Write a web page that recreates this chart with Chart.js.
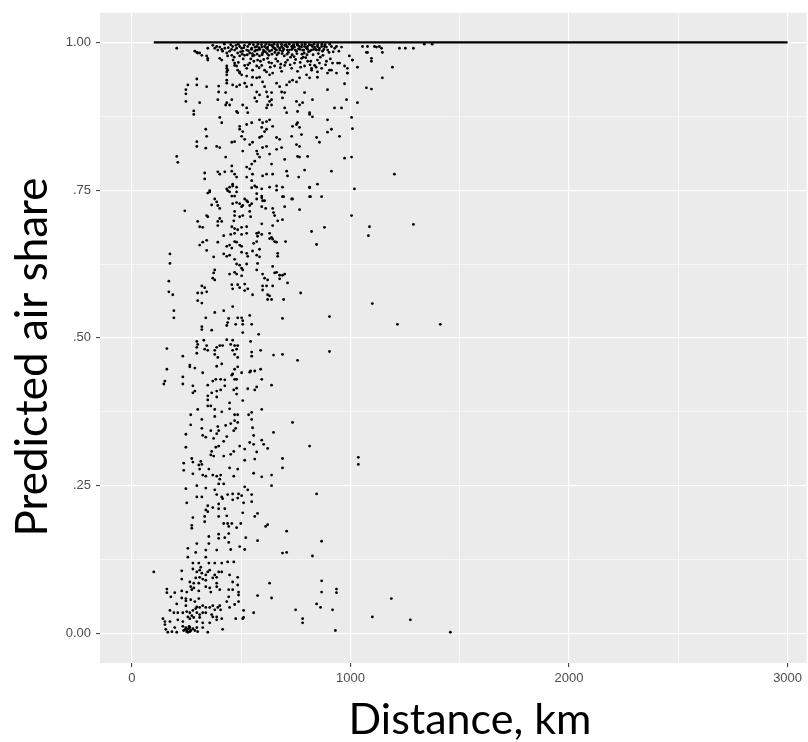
<!DOCTYPE html>
<html>
<head>
<meta charset="utf-8">
<script src="https://cdn.jsdelivr.net/npm/chart.js@4.4.1/dist/chart.umd.min.js"></script>
<style>
  html, body { margin: 0; padding: 0; background: #ffffff; }
  #wrap { width: 808px; height: 742px; position: relative; }
</style>
</head>
<body>
<div id="wrap"><canvas id="c" width="808" height="742"></canvas></div>
<script>
// ---- Data (distance in km, predicted air share) ----
const xTickValues = [0, 500, 1000, 1500, 2000, 2500, 3000];
const xTickLabels = {"0": "0", "1000": "1000", "2000": "2000", "3000": "3000"};
const yTickValues = [0, 0.125, 0.25, 0.375, 0.5, 0.625, 0.75, 0.875, 1];
const yTickLabels = {"0": "0.00", "0.25": ".25", "0.5": ".50", "0.75": ".75", "1": "1.00"};
const xTitle = "Distance, km";
const yTitle = "Predicted air share";

// routes whose predicted share saturates at 1 (dense horizontal band)
const saturatedDistanceRange = [100, 3000];
const saturatedShare = 1.0;

const topCluster = [
[205,0.990],[297,0.983],[310,0.982],[347,0.973],[402,0.973],[434,0.956],[434,0.950],[434,0.945],[434,0.936],[434,0.931],
[297,0.938],[297,0.928],[256,0.928],[247,0.920],[247,0.913],[247,0.900],[310,0.898],[342,0.925],[397,0.926],[393,0.903],
[397,0.916],[429,0.915],[434,0.898],[447,0.894],[429,0.894],[457,0.903],[479,0.883],[484,0.881],[470,0.961],[493,0.950],
[461,0.928],[479,0.925],[493,0.928],[516,0.931],[525,0.925],[548,0.928],[507,0.894],[525,0.889],[530,0.881],[571,0.916],
[584,0.911],[562,0.906],[571,0.900],[552,0.941],[571,0.940],[584,0.941],[616,0.950],[630,0.945],[644,0.948],[616,0.916],
[621,0.908],[630,0.900],[621,0.894],[616,0.889],[639,0.915],[639,0.903],[639,0.894],[598,0.933],[607,0.925],[662,0.931],
[676,0.925],[685,0.916],[699,0.915],[689,0.906],[708,0.928],[721,0.933],[699,0.889],[708,0.881],[753,0.900],[767,0.894],
[781,0.898],[758,0.883],[813,0.878],[826,0.874],[826,0.903],[790,0.915],[735,0.936],[753,0.933],[767,0.940],[799,0.945],
[813,0.940],[822,0.956],[849,0.950],[849,0.941],[858,0.965],[895,0.920],[904,0.953],[927,0.889],[959,0.889],[918,0.965],
[936,0.948],[950,0.965],[973,0.930],[982,0.903],[986,0.948],[986,0.956],[1009,0.970],[1032,0.958],[1032,0.898],[1078,0.983],
[1096,0.973],[1096,0.968],[1073,0.923],[1096,0.921],[1119,0.992],[1146,0.940],[1146,0.983],[1192,0.958],[1224,0.990],
[1251,0.990],[1288,0.990],[1338,0.997],[1374,0.997]
];

const nearOneRim = [
[288,0.985],[301,0.982],[320,0.978],[342,0.977],[347,0.970],[347,0.990],[370,0.995],[379,0.990],[388,0.993],[393,0.987],
[402,0.992],[411,0.988],[415,0.985],[425,0.990],[411,0.970],[434,0.982],[438,0.977],[447,0.985],[457,0.978],[434,0.960],
[438,0.953],[461,0.993],[470,0.987],[479,0.990],[484,0.982],[493,0.977],[493,0.993],[470,0.965],[479,0.960],[484,0.953],
[493,0.948],[502,0.990],[507,0.985],[516,0.978],[525,0.987],[530,0.993],[539,0.982],[548,0.990],[552,0.977],[562,0.985],
[571,0.993],[575,0.987],[516,0.961],[525,0.956],[539,0.965],[552,0.953],[571,0.960],[502,0.945],[525,0.943],
[584,0.977],[598,0.982],[616,0.990],[630,0.985],[644,0.993],[662,0.987],[676,0.990],[689,0.985],[708,0.993],[721,0.987],
[735,0.990],[753,0.985],[767,0.993],[781,0.987],[799,0.990],[813,0.985],[826,0.993],[845,0.987],[858,0.990],[872,0.985],
[594,0.992],[607,0.993],[621,0.992],[639,0.995],[653,0.990],[667,0.993],[685,0.993],[699,0.995],[712,0.992],[731,0.993],
[744,0.992],[758,0.995],[776,0.992],[790,0.993],[804,0.993],[822,0.995],[836,0.992],[849,0.993],[868,0.993],[890,0.992],
[913,0.993],[936,0.993],[959,0.992],
[575,0.970],[594,0.961],[607,0.953],[621,0.973],[639,0.965],[653,0.960],[667,0.968],[685,0.951],[699,0.961],[712,0.970],
[731,0.956],[744,0.965],[758,0.951],[776,0.973],[790,0.960],[804,0.968],[822,0.953],[836,0.961],[849,0.970],[868,0.956],
[890,0.968],[913,0.953],[941,0.965],[973,0.960],[995,0.977],[1009,0.970],[986,0.948],[895,0.948],
[1055,0.993],[1078,0.993],[1110,0.993],[1132,0.993],[1142,0.990],[1073,0.983],
[538,0.997],[556,0.996],[577,0.997],[593,0.996],[613,0.997],[628,0.996],[650,0.997],[666,0.996],[684,0.997],[705,0.996],
[720,0.997],[741,0.996],[757,0.997],[778,0.996],[793,0.997],[812,0.996],[833,0.997],[850,0.996],[869,0.997],[884,0.996],
[905,0.997],
[547,0.988],[567,0.987],[585,0.988],[602,0.987],[622,0.988],[640,0.987],[657,0.988],[677,0.987],[695,0.988],[711,0.987],
[732,0.988],[748,0.987],[768,0.988],[786,0.987],[805,0.988],[821,0.987],[841,0.988],[857,0.987],[878,0.988],[896,0.987],
[505,0.980],[528,0.979],[551,0.981],[573,0.980],[596,0.979],[619,0.981],[641,0.980],[664,0.979],[687,0.981],[710,0.980],
[733,0.979],[755,0.981],[778,0.980],[801,0.979],
[452,0.996],[487,0.997],[515,0.995],[563,0.992],[611,0.984],[654,0.983],[697,0.977],[742,0.976],[788,0.982],[829,0.979],
[874,0.978],[921,0.984],[468,0.975],[544,0.972],[588,0.968],[633,0.958],[681,0.963],[726,0.975],[770,0.966],[815,0.962]
];

const denseCore = [
[423,0.997],[441,0.991],[456,0.988],[476,0.995],[497,0.984],[512,0.991],[533,0.986],[559,0.978],[581,0.991],[604,0.985],
[626,0.978],[648,0.991],[671,0.982],[692,0.990],[716,0.983],[738,0.995],[762,0.989],[784,0.975],[808,0.984],[831,0.988],
[853,0.981],[881,0.993],[902,0.983],[928,0.990],[947,0.985],[463,0.970],[487,0.966],[509,0.972],[531,0.962],[558,0.968],
[582,0.957],[603,0.971],[627,0.966],[658,0.972],[679,0.957],[703,0.966],[724,0.962],[749,0.971],[772,0.958],[796,0.974],
[818,0.968],[843,0.958],[862,0.975],[886,0.962],[908,0.972]
];

const upperBand = [
[205,0.807],[210,0.797],[283,0.884],[283,0.878],[297,0.832],[297,0.824],[338,0.853],[342,0.841],[338,0.821],[333,0.779],
[333,0.769],[356,0.747],[379,0.735],[388,0.824],[402,0.822],[402,0.873],[411,0.864],[429,0.806],[393,0.781],[402,0.777],
[425,0.781],[434,0.752],[438,0.749],[457,0.791],[457,0.782],[470,0.777],[479,0.772],[461,0.760],[479,0.755],[457,0.831],
[470,0.832],[493,0.853],[507,0.849],[502,0.841],[516,0.836],[493,0.858],[525,0.861],[548,0.864],[539,0.827],[552,0.831],
[507,0.816],[525,0.789],[539,0.786],[548,0.794],[562,0.799],[525,0.772],[548,0.766],[552,0.777],[562,0.757],[571,0.755],
[584,0.869],[598,0.864],[594,0.856],[607,0.849],[616,0.853],[584,0.839],[594,0.841],[571,0.816],[575,0.811],[584,0.806],
[598,0.822],[616,0.824],[630,0.811],[639,0.794],[598,0.774],[616,0.777],[644,0.777],[594,0.752],[594,0.740],[598,0.732],
[616,0.866],[630,0.869],[644,0.858],[662,0.839],[676,0.836],[662,0.819],[685,0.822],[699,0.802],[662,0.757],[689,0.755],
[708,0.782],[712,0.774],[731,0.841],[735,0.858],[753,0.861],[758,0.864],[767,0.856],[753,0.827],[767,0.824],[758,0.807],
[767,0.806],[776,0.844],[735,0.735],[689,0.739],[804,0.807],[813,0.881],[845,0.839],[858,0.831],[849,0.760],[868,0.739],
[817,0.739],[813,0.755],[790,0.784],[763,0.772],[895,0.869],[895,0.848],[913,0.853],[913,0.782],[950,0.841],[973,0.804],
[1005,0.806],[1005,0.873],[1009,0.854],[1018,0.752],[1201,0.777]
];

const middleBand = [
[356,0.749],[347,0.745],[447,0.755],[461,0.757],[548,0.754],[630,0.755],[662,0.750],[813,0.754],[242,0.715],[388,0.730],
[365,0.725],[402,0.719],[393,0.724],[447,0.747],[457,0.740],[470,0.740],[479,0.747],[461,0.727],[479,0.729],[493,0.727],
[507,0.724],[502,0.722],[516,0.735],[525,0.732],[539,0.724],[530,0.730],[548,0.727],[571,0.744],[571,0.735],[594,0.737],
[607,0.732],[594,0.722],[612,0.719],[644,0.719],[648,0.712],[653,0.707],[694,0.739],[699,0.722],[731,0.735],[767,0.717],
[813,0.739],[342,0.707],[347,0.705],[470,0.714],[470,0.707],[493,0.705],[507,0.707],[539,0.714],[543,0.705],[466,0.698],
[301,0.697],[310,0.688],[324,0.687],[393,0.697],[402,0.702],[393,0.690],[411,0.697],[457,0.688],[470,0.685],[484,0.683],
[502,0.687],[525,0.688],[594,0.693],[644,0.690],[667,0.698],[689,0.700],[822,0.680],[881,0.687],[1005,0.707],[1087,0.688],
[1082,0.673],[1288,0.692],[420,0.673],[452,0.675],[470,0.677],[502,0.675],[525,0.677],[571,0.677],[580,0.678],[594,0.675],
[575,0.672],[630,0.677],[639,0.670],[644,0.667],[653,0.663],[662,0.662],[630,0.668],[703,0.663],[845,0.658],[310,0.657],
[324,0.662],[342,0.665],[393,0.662],[434,0.655],[447,0.657],[457,0.652],[470,0.663],[479,0.662],[493,0.657],[502,0.655],
[557,0.660],[571,0.663],[584,0.650],[342,0.648],[374,0.637],[420,0.642],[434,0.638],[447,0.640],[502,0.645],[525,0.643],
[530,0.638],[552,0.647],[571,0.640],[584,0.637],[667,0.643],[667,0.638],[174,0.642],[174,0.626],[470,0.633],[479,0.625],
[493,0.623],[525,0.625],[502,0.618],[507,0.615],[575,0.626],[571,0.615],[644,0.621],[653,0.610],[662,0.611],[676,0.606],
[676,0.600],[689,0.606],[699,0.608],[379,0.615],[374,0.610],[379,0.598],[370,0.601],[447,0.608],[470,0.611],[479,0.608],
[502,0.605],[598,0.608],[607,0.601],[621,0.598],[169,0.596],[712,0.593],[320,0.588],[333,0.585],[342,0.578],[320,0.576],
[301,0.576],[457,0.590],[461,0.583],[484,0.590],[493,0.585],[516,0.591],[530,0.583],[516,0.580],[552,0.573],[598,0.588],
[616,0.588],[598,0.581],[621,0.573],[630,0.571],[644,0.588],[621,0.565],[639,0.565],[694,0.565],[772,0.576],[169,0.578],
[187,0.573],[301,0.563],[320,0.559],[461,0.553],[420,0.546],[379,0.543],[1100,0.558],[192,0.546],[192,0.534],[338,0.534],
[443,0.533],[438,0.526],[434,0.521],[484,0.534],[502,0.534],[507,0.529],[507,0.523],[539,0.538],[548,0.523],[475,0.523],
[689,0.533],[904,0.536],[1215,0.523],[1411,0.523],[320,0.519],[320,0.514],[365,0.513],[507,0.509],[580,0.506],[160,0.482],
[434,0.497],[297,0.494],[301,0.489],[297,0.484],[329,0.496],[342,0.487],[333,0.481],[347,0.479],[379,0.479],[388,0.484],
[402,0.487],[415,0.487],[379,0.472],[393,0.467],[452,0.489],[461,0.496],[470,0.487],[479,0.481],[484,0.487],[461,0.479],
[470,0.472],[484,0.467],[543,0.494],[548,0.476],[548,0.469],[589,0.479],[648,0.471],[689,0.472],[758,0.462],[904,0.477],
[297,0.474],[233,0.469],[265,0.454],[265,0.451],[288,0.449],[160,0.447],[388,0.452],[411,0.456],[470,0.447],[484,0.451],
[461,0.439],[502,0.441],[470,0.430],[479,0.430],[543,0.444],[562,0.444],[589,0.447],[594,0.430],[233,0.434],[324,0.441],
[370,0.427],[384,0.430],[406,0.430],[425,0.429],[151,0.427]
];

const lowerBand = [
[146,0.422],[233,0.422],[279,0.419],[288,0.410],[279,0.407],[347,0.420],[347,0.402],[347,0.395],[365,0.407],[388,0.410],
[388,0.400],[406,0.412],[425,0.419],[457,0.437],[466,0.412],[479,0.415],[479,0.405],[539,0.442],[530,0.414],[562,0.412],
[571,0.417],[639,0.420],[507,0.394],[447,0.390],[447,0.380],[347,0.385],[361,0.385],[379,0.379],[411,0.375],[470,0.370],
[484,0.370],[534,0.370],[548,0.374],[594,0.379],[269,0.370],[301,0.379],[379,0.367],[320,0.362],[470,0.360],[484,0.357],
[452,0.355],[548,0.362],[735,0.357],[269,0.353],[393,0.350],[429,0.352],[320,0.347],[361,0.343],[388,0.338],[397,0.343],
[475,0.347],[466,0.343],[552,0.348],[247,0.337],[324,0.335],[338,0.332],[374,0.330],[434,0.333],[557,0.335],[648,0.340],
[420,0.325],[397,0.317],[384,0.315],[365,0.308],[493,0.317],[539,0.323],[557,0.320],[594,0.327],[603,0.320],[621,0.313],
[247,0.315],[466,0.308],[516,0.312],[571,0.307],[361,0.302],[374,0.300],[420,0.300],[452,0.303],[516,0.293],[562,0.295],
[689,0.296],[689,0.280],[813,0.317],[1036,0.298],[1036,0.286],[274,0.296],[279,0.290],[237,0.288],[315,0.291],[320,0.286],
[306,0.285],[310,0.278],[237,0.276],[352,0.278],[447,0.280],[484,0.278],[279,0.270],[324,0.268],[338,0.266],[370,0.268],
[388,0.266],[406,0.268],[402,0.261],[466,0.266],[557,0.271],[594,0.265],[639,0.268],[397,0.253],[420,0.253],[639,0.250],
[247,0.245],[297,0.250],[338,0.246],[379,0.243],[516,0.248],[530,0.243],[845,0.236],[297,0.231],[320,0.231],[388,0.235],
[411,0.231],[438,0.235],[461,0.236],[488,0.236],[484,0.229],[502,0.233],[548,0.235],[415,0.228],[461,0.226],[397,0.219],
[511,0.221],[548,0.223],[251,0.221],[347,0.216],[370,0.213],[338,0.209],[347,0.206],[397,0.211],[425,0.211],[507,0.204],
[279,0.196],[333,0.198],[397,0.198],[434,0.199],[562,0.198],[575,0.203]
];

const bottomBand = [
[333,0.189],[274,0.183],[274,0.178],[420,0.186],[438,0.186],[457,0.186],[443,0.181],[479,0.179],[498,0.186],[612,0.181],
[621,0.184],[708,0.173],[868,0.156],[352,0.164],[397,0.168],[397,0.161],[425,0.162],[443,0.169],[521,0.162],[575,0.157],
[297,0.152],[352,0.152],[443,0.154],[493,0.147],[256,0.144],[292,0.137],[338,0.141],[388,0.141],[452,0.142],[516,0.142],
[689,0.136],[708,0.137],[826,0.131],[256,0.129],[338,0.129],[352,0.119],[379,0.119],[411,0.119],[438,0.121],[466,0.121],
[279,0.119],[306,0.119],[315,0.112],[100,0.104],[228,0.106],[228,0.092],[279,0.109],[297,0.104],[310,0.107],[320,0.102],
[338,0.099],[347,0.104],[356,0.107],[379,0.099],[388,0.095],[397,0.104],[411,0.104],[447,0.099],[484,0.095],[292,0.094],
[310,0.095],[324,0.092],[338,0.090],[370,0.094],[265,0.087],[283,0.085],[306,0.085],[269,0.079],[283,0.077],[274,0.074],
[338,0.079],[356,0.077],[388,0.085],[388,0.079],[402,0.074],[461,0.087],[484,0.082],[630,0.085],[868,0.089],[160,0.075],
[160,0.069],[178,0.062],[196,0.069],[228,0.072],[251,0.070],[306,0.072],[361,0.070],[443,0.074],[461,0.074],[488,0.070],
[488,0.065],[228,0.060],[247,0.059],[269,0.057],[306,0.059],[443,0.062],[575,0.064],[639,0.060],[868,0.070],[936,0.075],
[936,0.069],[1187,0.059],[205,0.050],[247,0.055],[247,0.047],[288,0.054],[297,0.045],[292,0.042],[310,0.044],[324,0.047],
[338,0.044],[356,0.044],[370,0.047],[379,0.040],[393,0.044],[402,0.047],[406,0.040],[434,0.054],[470,0.049],[488,0.054],
[174,0.039],[192,0.035],[210,0.035],[233,0.035],[251,0.037],[265,0.035],[279,0.039],[297,0.035],[310,0.032],[324,0.035],
[338,0.035],[365,0.032],[370,0.028],[388,0.028],[447,0.044],[511,0.039],[511,0.027],[557,0.035],[749,0.040],[845,0.050],
[863,0.044],[918,0.040],[1100,0.028],[1274,0.023],[142,0.025],[151,0.020],[151,0.015],[174,0.020],[210,0.023],[233,0.020],
[256,0.028],[265,0.025],[274,0.030],[283,0.027],[297,0.020],[310,0.027],[324,0.018],[356,0.018],[388,0.023],[411,0.025],
[475,0.025],[507,0.025],[781,0.025],[781,0.018],[155,0.007],[164,0.002],[183,0.003],[196,0.010],[205,0.002],[233,0.012],
[237,0.005],[247,0.010],[251,0.003],[256,0.007],[265,0.010],[265,0.003],[279,0.008],[288,0.005],[297,0.010],[301,0.003],
[324,0.010],[347,0.002],[415,0.007],[931,0.005],[1457,0.002],[251,0.005],[256,0.002],[260,0.008],[244,0.007],[270,0.005],
[262,0.012]
];

// ---- Chart ----
const toXY = arr => arr.map(([x, y]) => ({x, y}));
const allPoints = [].concat(topCluster, nearOneRim, denseCore, upperBand, middleBand, lowerBand, bottomBand);

const keyOf = v => String(Math.round(v * 1000) / 1000);

const panelBg = {
  id: 'panelBg',
  beforeDraw(chart) {
    const {ctx, chartArea: a} = chart;
    ctx.save();
    ctx.fillStyle = '#EBEBEB';
    ctx.fillRect(a.left, a.top, a.right - a.left, a.bottom - a.top);
    ctx.restore();
  }
};

const axisTitles = {
  id: 'axisTitles',
  afterDraw(chart) {
    const {ctx} = chart;
    ctx.save();
    ctx.fillStyle = '#000000';
    ctx.textAlign = 'center';
    ctx.textBaseline = 'alphabetic';
    ctx.font = '43px Lato, "Open Sans", sans-serif';
    ctx.fillText(xTitle, 470, 734);
    ctx.translate(47, 357);
    ctx.rotate(-Math.PI / 2);
    ctx.font = '44px Lato, "Open Sans", sans-serif';
    ctx.fillText(yTitle, 0, 0);
    ctx.restore();
  }
};

new Chart(document.getElementById('c'), {
  type: 'scatter',
  data: {
    datasets: [
      {
        type: 'line',
        data: [{x: saturatedDistanceRange[0], y: saturatedShare}, {x: saturatedDistanceRange[1], y: saturatedShare}],
        borderColor: '#000000',
        borderWidth: 2.4,
        pointRadius: 0,
        fill: false
      },
      {
        data: toXY(allPoints),
        backgroundColor: '#000000',
        borderWidth: 0,
        pointRadius: 1.4,
        pointHoverRadius: 1.4
      }
    ]
  },
  options: {
    responsive: false,
    animation: false,
    events: [],
    layout: { padding: { top: 8, left: 0, right: 0, bottom: 0 } },
    plugins: { legend: { display: false }, tooltip: { enabled: false } },
    scales: {
      x: {
        type: 'linear',
        min: -146,
        max: 3087,
        afterFit: s => { s.height = 79; },
        afterBuildTicks: s => { s.ticks = xTickValues.map(v => ({value: v})); },
        border: { display: false },
        grid: {
          color: '#FFFFFF',
          lineWidth: c => (keyOf(c.tick.value) in xTickLabels) ? 1.2 : 0.6,
          drawTicks: true,
          tickLength: 4,
          tickWidth: 1,
          tickColor: c => (keyOf(c.tick.value) in xTickLabels) ? '#333333' : 'rgba(0,0,0,0)'
        },
        ticks: {
          autoSkip: false,
          maxRotation: 0,
          padding: 4,
          color: '#4D4D4D',
          font: { family: '"Liberation Sans", Arial, sans-serif', size: 13 },
          callback: v => xTickLabels[keyOf(v)] || ''
        }
      },
      y: {
        type: 'linear',
        min: -0.05,
        max: 1.05,
        afterFit: s => { s.width = 100; },
        afterBuildTicks: s => { s.ticks = yTickValues.map(v => ({value: v})); },
        border: { display: false },
        grid: {
          color: '#FFFFFF',
          lineWidth: c => (keyOf(c.tick.value) in yTickLabels) ? 1.2 : 0.6,
          drawTicks: true,
          tickLength: 4,
          tickWidth: 1,
          tickColor: c => (keyOf(c.tick.value) in yTickLabels) ? '#333333' : 'rgba(0,0,0,0)'
        },
        ticks: {
          autoSkip: false,
          padding: 5,
          color: '#4D4D4D',
          font: { family: '"Liberation Sans", Arial, sans-serif', size: 13 },
          callback: v => yTickLabels[keyOf(v)] || ''
        }
      }
    }
  },
  plugins: [panelBg, axisTitles]
});
</script>
</body>
</html>
